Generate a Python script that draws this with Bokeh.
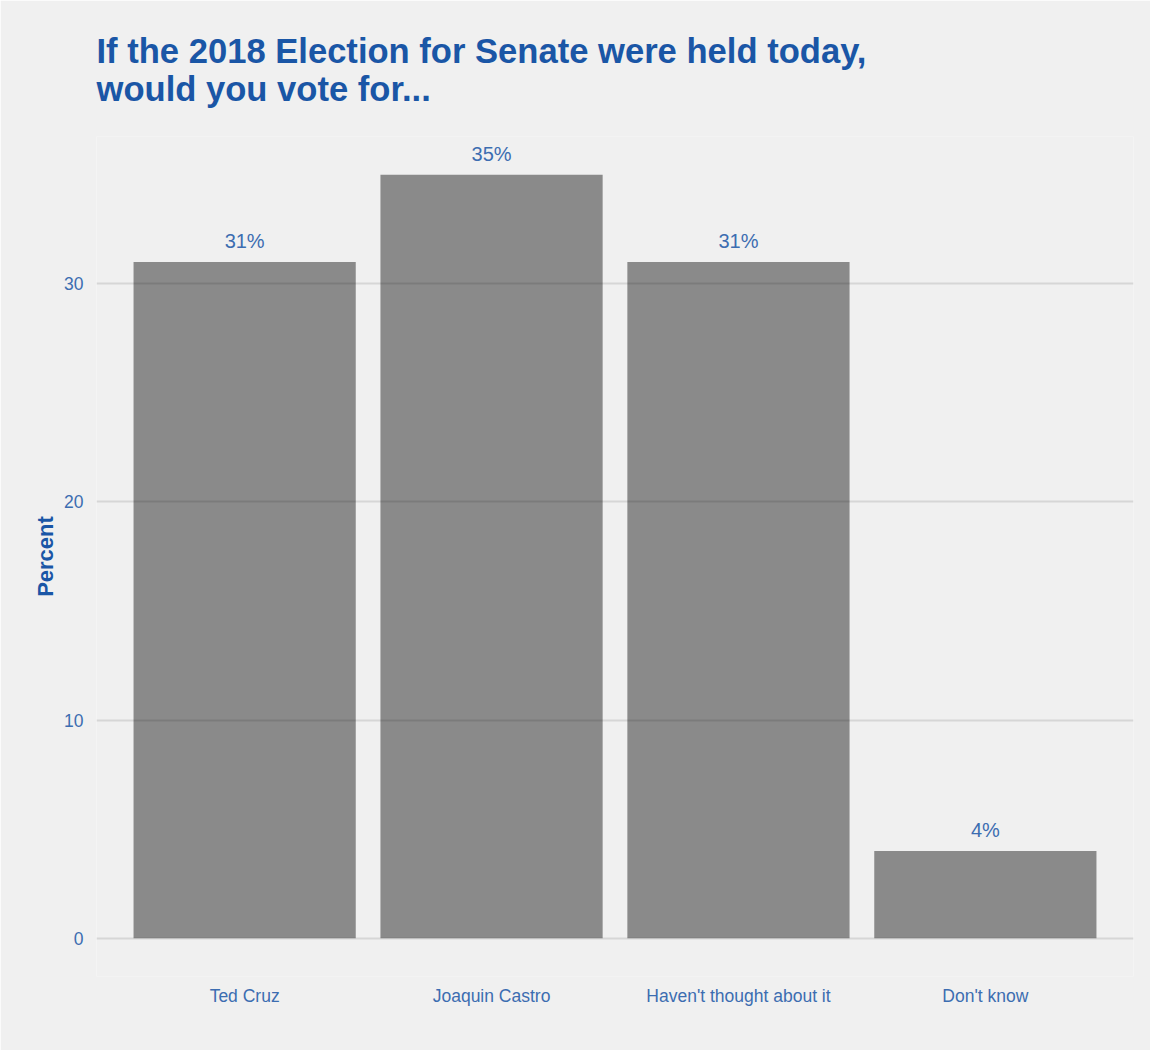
from bokeh.plotting import figure
from bokeh.models import Range1d, FactorRange, FixedTicker, Title, ColumnDataSource
from bokeh.embed import file_html
from bokeh.resources import INLINE
from bokeh.core.properties import value

categories = ["Ted Cruz", "Joaquin Castro", "Haven't thought about it", "Don't know"]
percents = [31, 35, 31, 4]
y_ticks = [0, 10, 20, 30]
title_lines = ["If the 2018 Election for Senate were held today,", "would you vote for..."]
y_label = "Percent"

FONT = "Liberation Sans"
TITLE_COLOR = "#1a56a6"
TEXT_COLOR = "#3c6db1"
BG = "#F0F0F0"

W, H = 1150, 1050
p = figure(
    x_range=FactorRange(*categories, range_padding=0.1, range_padding_units="absolute"),
    y_range=Range1d(-1.75, 36.75),
    width=W, height=H, title=None,
    output_backend="svg", toolbar_location=None,
    min_border_left=96, min_border_right=17, min_border_top=136, min_border_bottom=74,
)
p.background_fill_color = BG
p.border_fill_color = BG
p.outline_line_color = None

src = ColumnDataSource(dict(cat=categories, pct=percents,
                            lab=[f"{v}%" for v in percents]))
p.vbar(x="cat", top="pct", bottom=0, width=0.9, source=src,
       fill_color="black", fill_alpha=0.425, line_color=None)
p.text(x="cat", y="pct", text="lab", source=src, text_align="center",
       text_baseline="bottom", y_offset=-10, text_color=TEXT_COLOR,
       text_font=value(FONT), text_font_size="20px")

p.xgrid.grid_line_color = None
p.ygrid.grid_line_color = "#d6d6d6"
p.ygrid.grid_line_width = 2
p.yaxis.ticker = FixedTicker(ticks=y_ticks)

for ax in (p.xaxis[0], p.yaxis[0]):
    ax.axis_line_color = None
    ax.major_tick_line_color = None
    ax.minor_tick_line_color = None
    ax.major_label_text_color = TEXT_COLOR
    ax.major_label_text_font = FONT
    ax.major_label_text_font_size = "17.5px"

p.xaxis.major_label_standoff = 3
p.yaxis.major_label_standoff = 7
p.yaxis.axis_label = y_label
p.yaxis.axis_label_text_font = FONT
p.yaxis.axis_label_text_font_style = "bold"
p.yaxis.axis_label_text_font_size = "22px"
p.yaxis.axis_label_text_color = TITLE_COLOR
p.yaxis.axis_label_standoff = 3

p.add_layout(Title(text="\n".join(title_lines), align="left", text_font=FONT,
                   text_font_style="bold", text_font_size="34.6px",
                   text_line_height=1.0,
                   text_color=TITLE_COLOR, standoff=58), "above")

open("out.html", "w").write(file_html(p, INLINE))
